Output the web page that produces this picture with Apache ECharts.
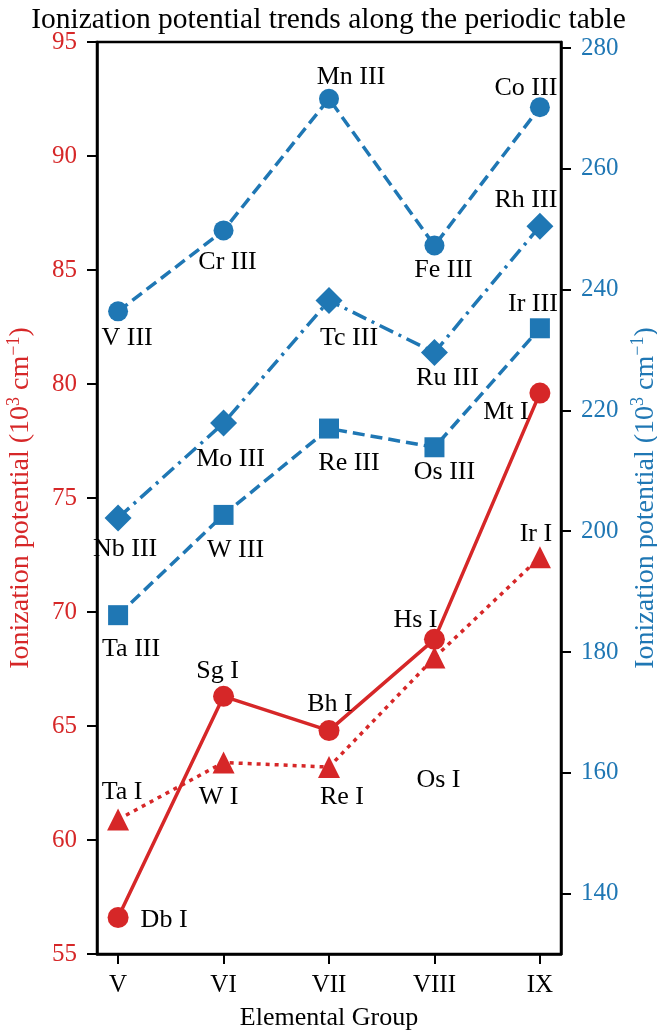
<!DOCTYPE html>
<html lang="en">
<head>
    <meta charset="UTF-8">
    <title>Ionization potential trends</title>
    <script src="https://cdn.jsdelivr.net/npm/echarts@6/dist/echarts.min.js"></script>
    <style>
        html, body { margin: 0; padding: 0; background: #fff; }
        #chart { width: 657px; height: 1031px; }
    </style>
</head>
<body>
<div id="chart"></div>
<script>
    // groups along the x axis
    let groups = ['V', 'VI', 'VII', 'VIII', 'IX'];

    // left axis (red), 10^3 cm^-1
    let neutral6d = [56.6, 66.3, 64.8, 68.8, 79.6];
    let neutral6dNames = ['Db I', 'Sg I', 'Bh I', 'Hs I', 'Mt I'];
    let neutral5d = [60.9, 63.4, 63.2, 68.0, 72.4];
    let neutral5dNames = ['Ta I', 'W I', 'Re I', 'Os I', 'Ir I'];

    // right axis (blue), 10^3 cm^-1
    let ion3d = [236.4, 249.8, 271.6, 247.3, 270.2];
    let ion3dNames = ['V III', 'Cr III', 'Mn III', 'Fe III', 'Co III'];
    let ion4d = [202.2, 217.9, 238.2, 229.6, 250.5];
    let ion4dNames = ['Nb III', 'Mo III', 'Tc III', 'Ru III', 'Rh III'];
    let ion5d = [186.1, 202.7, 217.0, 213.9, 233.6];
    let ion5dNames = ['Ta III', 'W III', 'Re III', 'Os III', 'Ir III'];

    let rightTicks = [140, 160, 180, 200, 220, 240, 260, 280];

    // label offsets (px) from each marker
    let off6d = [[46, 3], [-6, -25], [1, -26], [-19, -19], [-34, 19]];
    let off5d = [[4, -27], [-5, 35], [13, 30], [4, 123], [-4, -23]];
    let off3d = [[9, 27], [4, 32], [22, -22], [9, 25], [-14, -19]];
    let off4d = [[7, 31], [7, 36], [20, 38], [13, 26], [-14, -26]];
    let off5dIII = [[13, 34], [12, 35], [20, 35], [10, 25], [-7, -24]];

    const RED = '#d62728';
    const BLUE = '#1f77b4';
    const FONT = '"Liberation Serif", "DejaVu Serif", serif';

    function points(values, names, offsets) {
        return values.map(function (v, i) {
            return {
                value: [i, v],
                label: {
                    show: true,
                    position: 'inside',
                    offset: offsets[i],
                    formatter: names[i],
                    color: '#000',
                    fontFamily: FONT,
                    fontSize: 26
                }
            };
        });
    }

    function lineSeries(values, names, offsets, yIdx, color, symbol, size, lineType) {
        return {
            type: 'line',
            yAxisIndex: yIdx,
            data: points(values, names, offsets),
            symbol: symbol,
            symbolSize: size,
            showAllSymbol: true,
            itemStyle: {color: color, opacity: 1},
            lineStyle: {color: color, width: 3.5, type: lineType},
            animation: false
        };
    }

    let chart = echarts.init(document.getElementById('chart'));

    let nameRich = {
        sup: {fontSize: 18, verticalAlign: 'top', padding: [0, 0, 14, 0], fontFamily: FONT}
    };

    let option = {
        backgroundColor: '#fff',
        animation: false,
        title: {
            text: 'Ionization potential trends along the periodic table',
            left: 'center',
            top: 0,
            textStyle: {fontFamily: FONT, fontSize: 29.5, fontWeight: 'normal', color: '#000'}
        },
        grid: {
            left: 97, right: 96, top: 42, bottom: 77,
            containLabel: false,
            outerBoundsMode: 'none',
            show: true, borderColor: '#000', borderWidth: 2.5, backgroundColor: 'transparent'
        },
        xAxis: {
            type: 'value',
            min: -0.2,
            max: 4.2,
            name: 'Elemental Group',
            nameLocation: 'middle',
            nameGap: 51,
            nameTextStyle: {fontFamily: FONT, fontSize: 26, color: '#000'},
            axisLine: {show: true, onZero: false, lineStyle: {color: '#000', width: 2.5}},
            axisTick: {show: true, length: 10, lineStyle: {width: 2}, customValues: [0, 1, 2, 3, 4]},
            axisLabel: {
                customValues: [0, 1, 2, 3, 4],
                formatter: function (v) { return groups[Math.round(v)]; },
                margin: 19,
                fontFamily: FONT, fontSize: 25, color: '#000'
            },
            splitLine: {show: false}
        },
        yAxis: [{
            type: 'value',
            position: 'left',
            min: 55,
            max: 95,
            interval: 5,
            name: 'Ionization potential (10{sup|3} cm{sup|−1})',
            nameLocation: 'middle',
            nameGap: 60,
            nameTextStyle: {fontFamily: FONT, fontSize: 28, color: RED, rich: nameRich},
            axisLine: {show: true, onZero: false, lineStyle: {color: '#000', width: 2.5}},
            axisTick: {show: true, length: 10, lineStyle: {width: 2}},
            axisLabel: {margin: 20, fontFamily: FONT, fontSize: 25, color: RED},
            splitLine: {show: false}
        }, {
            type: 'value',
            position: 'right',
            min: 130,
            max: 281,
            name: 'Ionization potential (10{sup|3} cm{sup|−1})',
            nameLocation: 'middle',
            nameGap: 60,
            nameRotate: 90,
            nameTextStyle: {fontFamily: FONT, fontSize: 28, color: BLUE, rich: nameRich},
            axisLine: {show: true, onZero: false, lineStyle: {color: '#000', width: 2.5}},
            axisTick: {show: true, length: 10, lineStyle: {width: 2}, customValues: rightTicks},
            axisLabel: {customValues: rightTicks, margin: 20, fontFamily: FONT, fontSize: 25, color: BLUE},
            splitLine: {show: false}
        }],
        series: [
            lineSeries(ion3d, ion3dNames, off3d, 1, BLUE, 'circle', 20, [12, 6]),
            lineSeries(ion4d, ion4dNames, off4d, 1, BLUE, 'diamond', 27, [15, 6, 3, 6]),
            lineSeries(ion5d, ion5dNames, off5dIII, 1, BLUE, 'rect', 20, [12, 6]),
            lineSeries(neutral6d, neutral6dNames, off6d, 0, RED, 'circle', 21, 'solid'),
            lineSeries(neutral5d, neutral5dNames, off5d, 0, RED, 'triangle', 22, [4, 5])
        ]
    };
    chart.setOption(option);
</script>
</body>
</html>
